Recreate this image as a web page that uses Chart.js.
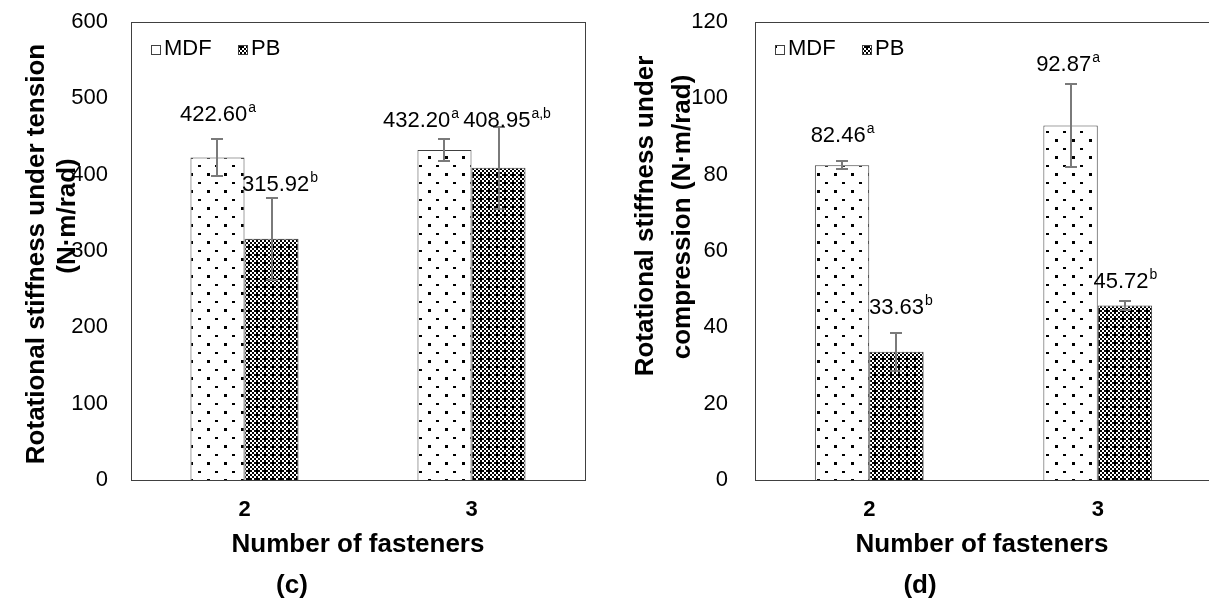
<!DOCTYPE html>
<html>
<head>
<meta charset="utf-8">
<script src="https://cdn.jsdelivr.net/npm/chart.js@4"></script>
<style>
  body { margin: 0; background: #fff; width: 1209px; height: 603px; overflow: hidden; position: relative; }
  .panel { position: absolute; top: 0; }
</style>
</head>
<body>
<div class="panel" style="left:0px"><canvas id="tension" width="600" height="603"></canvas></div>
<div class="panel" style="left:610px"><canvas id="compression" width="610" height="603"></canvas></div>
<script>
// data
const categories = ['2', '3'];
const seriesNames = ['MDF', 'PB'];

const tensionMDF = [422.60, 432.20];
const tensionPB = [315.92, 408.95];
const tensionMDFErr = [24, 14];
const tensionPBErr = [54, 54];
const tensionMDFLetters = ['a', 'a'];
const tensionPBLetters = ['b', 'a,b'];
const tensionTicks = { max: 600, step: 100 };

const compMDF = [82.46, 92.87];
const compPB = [33.63, 45.72];
const compMDFErr = [1.1, 10.9];
const compPBErr = [5.0, 1.3];
const compMDFLetters = ['a', 'a'];
const compPBLetters = ['b', 'b'];
const compTicks = { max: 120, step: 20 };

const FONT = '"Liberation Sans", Arial, sans-serif';
Chart.defaults.font.family = FONT;
Chart.defaults.color = '#000';

// fill patterns
function makePattern(rows, cell) {
    const c = document.createElement('canvas');
    c.width = rows[0].length * cell;
    c.height = rows.length * cell;
    const g = c.getContext('2d');
    g.fillStyle = '#fff';
    g.fillRect(0, 0, c.width, c.height);
    g.fillStyle = '#000';
    rows.forEach((r, y) => {
        for (let x = 0; x < r.length; x++) {
            if (r[x] === 'X') g.fillRect(x * cell, y * cell, cell, cell);
        }
    });
    return g.createPattern(c, 'repeat');
}
function makeDots() {
    const c = document.createElement('canvas');
    c.width = 17; c.height = 17;
    const g = c.getContext('2d');
    g.fillStyle = '#fff';
    g.fillRect(0, 0, 17, 17);
    g.fillStyle = '#000';
    g.fillRect(3, 3, 3, 3);
    g.fillRect(11, 12, 3, 2);
    return g.createPattern(c, 'repeat');
}
const dotFill = makeDots();
const checkFill = makePattern([
    'X.X.',
    '.X.X',
    'X.X.',
    'XX.X'
], 2);

const extras = {
    id: 'extras',
    afterDatasetsDraw(chart, args, o) {
        const ctx = chart.ctx;
        const a = chart.chartArea;
        const y = chart.scales.y;
        ctx.save();
        ctx.strokeStyle = '#404040';
        ctx.lineWidth = 1;
        ctx.strokeRect(a.left + 0.5, a.top + 0.5, a.right - a.left, a.bottom - a.top);

        chart.data.datasets.forEach((ds, di) => {
            const meta = chart.getDatasetMeta(di);
            meta.data.forEach((bar, i) => {
                const v = ds.data[i], e = ds.err[i];
                const top = Math.round(y.getPixelForValue(v + e));
                const bot = Math.round(y.getPixelForValue(v - e));
                const x = Math.round(bar.x);
                ctx.strokeStyle = '#7a7a7a';
                ctx.lineWidth = 2;
                ctx.beginPath();
                ctx.moveTo(x, top); ctx.lineTo(x, bot);
                ctx.moveTo(x - 6, top); ctx.lineTo(x + 6, top);
                ctx.moveTo(x - 6, bot); ctx.lineTo(x + 6, bot);
                ctx.stroke();

                const shift = o.labelShift[di][i];
                const main = v.toFixed(2);
                const sup = ds.letters[i];
                ctx.font = '22px ' + FONT;
                const wm = ctx.measureText(main).width;
                ctx.font = '14px ' + FONT;
                const ws = ctx.measureText(sup).width;
                const left = bar.x + shift[0] - (wm + ws) / 2;
                const cy = top + shift[1];
                ctx.fillStyle = '#000';
                ctx.textBaseline = 'middle';
                ctx.textAlign = 'left';
                ctx.font = '22px ' + FONT;
                ctx.fillText(main, left, cy);
                ctx.font = '14px ' + FONT;
                ctx.fillText(sup, left + wm + 1, cy - 7);
            });
        });

        // legend
        ctx.font = '22px ' + FONT;
        ctx.textBaseline = 'middle';
        const lx = a.left + 20, ly = a.top + 27;
        [[dotFill, seriesNames[0], 0], [checkFill, seriesNames[1], 87]].forEach(([fill, name, off]) => {
            ctx.fillStyle = fill;
            ctx.fillRect(lx + off, ly - 4, 9, 9);
            ctx.strokeStyle = '#404040';
            ctx.lineWidth = 1;
            ctx.strokeRect(lx + off + 0.5, ly - 3.5, 9, 9);
            ctx.fillStyle = '#000';
            ctx.fillText(name, lx + off + 13, ly);
        });
        ctx.restore();
    },
    afterDraw(chart, args, o) {
        const ctx = chart.ctx;
        ctx.save();
        ctx.fillStyle = '#000';
        ctx.textAlign = 'center';
        ctx.textBaseline = 'middle';
        ctx.font = 'bold 26px ' + FONT;
        o.yTitle.forEach(t => {
            ctx.save();
            ctx.translate(t.x, t.y);
            ctx.rotate(-Math.PI / 2);
            ctx.fillText(t.text, 0, 0);
            ctx.restore();
        });
        ctx.fillText(o.xTitle.text, o.xTitle.x, o.xTitle.y);
        ctx.fillText(o.caption.text, o.caption.x, o.caption.y);
        ctx.restore();
    }
};

function makeChart(id, mdf, pb, mdfErr, pbErr, mdfL, pbL, ticks, area, tickGap, plug) {
    const chart = new Chart(document.getElementById(id), {
        type: 'bar',
        data: {
            labels: categories,
            datasets: [
                { label: seriesNames[0], data: mdf, err: mdfErr, letters: mdfL,
                  backgroundColor: dotFill, borderColor: '#404040', borderWidth: 1 },
                { label: seriesNames[1], data: pb, err: pbErr, letters: pbL,
                  backgroundColor: checkFill, borderColor: '#404040', borderWidth: 1 }
            ]
        },
        options: {
            responsive: false,
            animation: false,
            devicePixelRatio: 1,
            layout: { padding: { left: 0, top: area.top, right: 0, bottom: 0 } },
            datasets: { bar: { categoryPercentage: 0.476, barPercentage: 1 } },
            scales: {
                x: {
                    grid: { display: false, drawTicks: false },
                    border: { display: false },
                    ticks: { font: { size: 22, weight: 'bold' }, color: '#000', padding: 17 },
                    afterFit(s) { s.height = 603 - area.bottom; }
                },
                y: {
                    min: 0, max: ticks.max,
                    // gap between labels and axis comes from an invisible tick mark,
                    // tick padding would push the plot area down
                    grid: { display: false, drawTicks: true, tickLength: tickGap },
                    border: { display: false },
                    ticks: { stepSize: ticks.step, font: { size: 22 }, color: '#000', padding: 0 },
                    afterFit(s) { s.width = area.left; }
                }
            },
            plugins: {
                legend: { display: false },
                tooltip: { enabled: false },
                extras: plug
            }
        },
        plugins: [extras]
    });
    // nudge layout padding until the plot area sits where the figure has it
    const pad = chart.config.options.layout.padding;
    for (let k = 0; k < 3; k++) {
        const a = chart.chartArea;
        pad.top += area.top - a.top;
        pad.right += a.right - area.right;
        chart.update();
    }
    return chart;
}

makeChart('tension', tensionMDF, tensionPB, tensionMDFErr, tensionPBErr,
    tensionMDFLetters, tensionPBLetters, tensionTicks,
    { left: 131, top: 22, right: 585, bottom: 480 }, 23, {
        labelShift: [[[0, -24], [-24, -18]], [[8, -13], [8, -6]]],
        yTitle: [
            { text: 'Rotational stiffness under tension', x: 37, y: 254 },
            { text: '(N·m/rad)', x: 68, y: 216 }
        ],
        xTitle: { text: 'Number of fasteners', x: 358, y: 545 },
        caption: { text: '(c)', x: 292, y: 586 }
    });

makeChart('compression', compMDF, compPB, compMDFErr, compPBErr,
    compMDFLetters, compPBLetters, compTicks,
    { left: 145, top: 22, right: 602, bottom: 480 }, 27, {
        labelShift: [[[0, -25], [-3, -19]], [[4, -25], [0, -19]]],
        yTitle: [
            { text: 'Rotational stiffness under', x: 36, y: 216 },
            { text: 'compression (N·m/rad)', x: 73, y: 217 }
        ],
        xTitle: { text: 'Number of fasteners', x: 372, y: 545 },
        caption: { text: '(d)', x: 310, y: 586 }
    });
</script>
</body>
</html>
